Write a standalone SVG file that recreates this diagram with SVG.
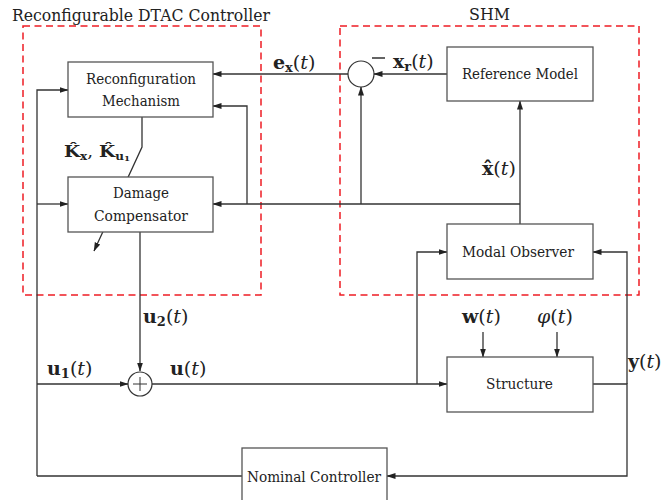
<svg xmlns="http://www.w3.org/2000/svg" width="667" height="500" viewBox="0 0 667 500">
<defs>
<marker id="ar" markerWidth="9" markerHeight="7" refX="8.5" refY="3.5" orient="auto" markerUnits="userSpaceOnUse">
<path d="M0,0.5 L9,3.5 L0,6.5 Z" fill="#222"/>
</marker>
</defs>
<style>
text{font-family:'DejaVu Serif','Liberation Serif',serif;fill:#222}
.box{fill:#fff;stroke:#555;stroke-width:1.3}
.ln{fill:none;stroke:#333;stroke-width:1.3}
.ar{marker-end:url(#ar)}
.dash{fill:none;stroke:#ee1c25;stroke-width:1.5;stroke-dasharray:7,4.5}
.m{font-size:19px}
.b{font-weight:bold}
.i{font-style:italic}
</style>
<rect width="667" height="500" fill="#fff"/>
<g id="groups">
<rect class="dash" x="23" y="26" width="238" height="269"/>
<rect class="dash" x="340" y="26" width="299" height="269"/>
<text x="12" y="21" font-size="16" textLength="258" lengthAdjust="spacingAndGlyphs">Reconfigurable DTAC Controller</text>
<text x="469" y="20" font-size="16" textLength="41" lengthAdjust="spacingAndGlyphs">SHM</text>
</g>
<g id="connectors">
<line class="ln ar" x1="348" y1="74" x2="213" y2="74"/>
<line class="ln ar" x1="447" y1="74" x2="374" y2="74"/>
<line class="ln ar" x1="520" y1="224" x2="520" y2="101"/>
<polyline class="ln ar" points="520,204 213,204"/>
<line class="ln ar" x1="361" y1="204" x2="361" y2="87"/>
<polyline class="ln ar" points="247,204 247,106 213,106"/>
<polyline class="ln ar" points="37,476 37,90 68,90"/>
<line class="ln ar" x1="37" y1="204" x2="68" y2="204"/>
<line class="ln ar" x1="37" y1="384" x2="128" y2="384"/>
<line class="ln" x1="242" y1="476" x2="37" y2="476"/>
<polyline class="ln ar" points="593,384 627,384 627,476 387,476"/>
<polyline class="ln ar" points="627,384 627,252 593,252"/>
<line class="ln ar" x1="140" y1="232" x2="140" y2="371"/>
<line class="ln ar" x1="152" y1="384" x2="447" y2="384"/>
<polyline class="ln ar" points="417,384 417,252 447,252"/>
<line class="ln ar" x1="483" y1="332" x2="483" y2="357"/>
<line class="ln ar" x1="557" y1="332" x2="557" y2="357"/>
<polyline class="ln ar" points="142,117 142,147 94,251"/>
</g>
<g id="reconfiguration-mechanism">
<rect class="box" x="68" y="62" width="145" height="55"/>
<text x="86" y="84" font-size="14.5" textLength="110" lengthAdjust="spacingAndGlyphs">Reconfiguration</text>
<text x="102" y="106" font-size="14.5" textLength="78" lengthAdjust="spacingAndGlyphs">Mechanism</text>
</g>
<g id="damage-compensator">
<rect class="box" x="68" y="177" width="145" height="55"/>
<text x="113" y="198" font-size="14.5" textLength="56" lengthAdjust="spacingAndGlyphs">Damage</text>
<text x="94" y="221" font-size="14.5" textLength="94" lengthAdjust="spacingAndGlyphs">Compensator</text>
</g>
<g id="reference-model">
<rect class="box" x="447" y="47" width="146" height="54"/>
<text x="462" y="79" font-size="14.5" textLength="116" lengthAdjust="spacingAndGlyphs">Reference Model</text>
</g>
<g id="modal-observer">
<rect class="box" x="447" y="224" width="146" height="55"/>
<text x="462" y="257" font-size="14.5" textLength="112" lengthAdjust="spacingAndGlyphs">Modal Observer</text>
</g>
<g id="structure">
<rect class="box" x="447" y="357" width="146" height="55"/>
<text x="486" y="389" font-size="14.5" textLength="67" lengthAdjust="spacingAndGlyphs">Structure</text>
</g>
<g id="nominal-controller">
<rect class="box" x="242" y="448" width="145" height="60"/>
<text x="247" y="482" font-size="14.5" textLength="134" lengthAdjust="spacingAndGlyphs">Nominal Controller</text>
</g>
<g id="comparator">
<circle cx="361" cy="74" r="13" fill="#fff" stroke="#333" stroke-width="1.2"/>
<line x1="372" y1="58" x2="385" y2="58" stroke="#222" stroke-width="1.4"/>
</g>
<g id="summer">
<circle cx="140" cy="384" r="12" fill="#fff" stroke="#333" stroke-width="1.2"/>
<path d="M133,384 H147 M140,377 V391" stroke="#333" stroke-width="1" fill="none"/>
</g>
<g id="labels">
<text class="m" x="273" y="69"><tspan class="b">e</tspan><tspan class="b" font-size="13" dy="3">x</tspan><tspan dy="-3">(</tspan><tspan class="i">t</tspan>)</text>
<text class="m" x="393" y="68"><tspan class="b">x</tspan><tspan class="b" font-size="13" dy="3">r</tspan><tspan dy="-3">(</tspan><tspan class="i">t</tspan>)</text>
<text class="m" x="482" y="175"><tspan class="b">x̂</tspan>(<tspan class="i">t</tspan>)</text>
<text class="m" x="64" y="157" font-size="17" textLength="66" lengthAdjust="spacingAndGlyphs"><tspan class="b" font-size="17">K̂</tspan><tspan class="b" font-size="11" dy="3">x</tspan><tspan font-size="17" dy="-3">, </tspan><tspan class="b" font-size="17">K̂</tspan><tspan class="b" font-size="11" dy="3">u</tspan><tspan class="b" font-size="8" dy="1">1</tspan></text>
<text class="m" x="143" y="323"><tspan class="b">u</tspan><tspan class="b" font-size="13" dy="3">2</tspan><tspan dy="-3">(</tspan><tspan class="i">t</tspan>)</text>
<text class="m" x="47" y="375"><tspan class="b">u</tspan><tspan class="b" font-size="13" dy="3">1</tspan><tspan dy="-3">(</tspan><tspan class="i">t</tspan>)</text>
<text class="m" x="170" y="375"><tspan class="b">u</tspan>(<tspan class="i">t</tspan>)</text>
<text class="m" x="462" y="323"><tspan class="b">w</tspan>(<tspan class="i">t</tspan>)</text>
<text class="m" x="537" y="323"><tspan class="i">φ</tspan>(<tspan class="i">t</tspan>)</text>
<text class="m" x="628" y="368"><tspan class="b">y</tspan>(<tspan class="i">t</tspan>)</text>
</g>
</svg>
